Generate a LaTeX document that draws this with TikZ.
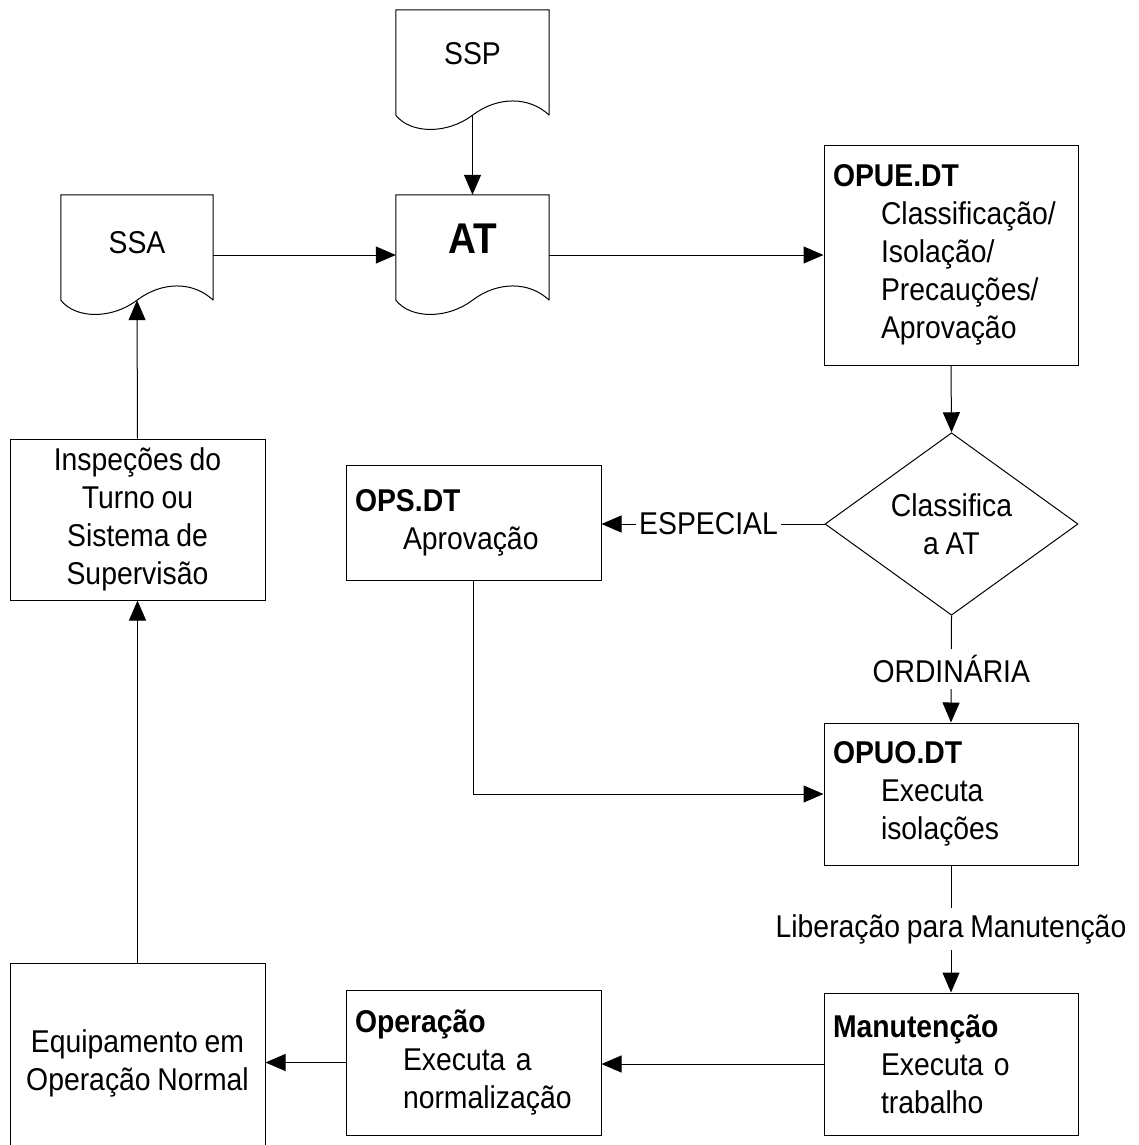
\documentclass[tikz,border=0pt]{standalone}
\usepackage{fontspec}
\setmainfont{Liberation Sans}[FakeStretch=0.9,WordSpace=0.85]
\usetikzlibrary{shapes.geometric,arrows.meta,calc}
\newcommand{\ind}{\hspace*{48pt}}
\newcommand{\mydocshape}[1]{%
  \draw[line width=1pt] (#1.south east) -- (#1.north east) -- (#1.north west) -- (#1.south west)
    .. controls ($(#1.south west)+(15,19)$) and ($(#1.south)+(-25,19)$) .. (#1.south)
    .. controls ($(#1.south)+(25,-19)$) and ($(#1.south east)+(-20,-19)$) .. (#1.south east);}
\begin{document}
\begin{tikzpicture}[x=1pt,y=-1pt,
  every node/.style={font=\fontsize{31.5}{38}\selectfont},
  line/.style={draw=black, line width=1pt},
  arr/.style={line, -{Triangle[length=20pt,width=17pt]}},
  box/.style={draw, line width=1pt, rectangle, inner xsep=9pt, inner ysep=0pt, align=left},
  cbox/.style={draw, line width=1pt, rectangle, inner sep=0pt, align=center},
  docnode/.style={rectangle, inner sep=0pt, minimum height=105pt},
  lbl/.style={fill=white, inner xsep=3.5pt, inner ysep=6pt},
]
\clip (0,0) rectangle (1139,1145);
\fill[white] (0,0) rectangle (1139,1145);

% document shapes
\node[docnode, minimum width=153pt] (ssp) at (472.5,62.5) {};
\mydocshape{ssp}
\node (ssptxt) at ([yshift=9pt]ssp.center) {SSP};

\node[docnode, minimum width=153pt] (at) at (472.5,247.5) {};
\mydocshape{at}
\node[font=\fontsize{43}{48}\selectfont\bfseries] (attxt) at ([yshift=9pt]at.center) {AT};

\node[docnode, minimum width=152pt] (ssa) at (137,247.5) {};
\mydocshape{ssa}
\node (ssatxt) at ([yshift=5pt]ssa.center) {SSA};

% process boxes
\node[box, minimum width=254pt, minimum height=220pt, text width=236pt] (opue) at (951,255)
  {\textbf{OPUE.DT}\\\ind Classificação/\\\ind Isolação/\\\ind Precauções/\\\ind Aprovação};
\node[diamond, draw, line width=1pt, minimum width=253pt, minimum height=170pt, inner sep=0pt, align=center]
  (dia) at (951.5,524) {Classifica\\a AT};
\node[box, minimum width=255pt, minimum height=115pt, text width=237pt] (ops) at (473.5,522.5)
  {\textbf{OPS.DT}\\\ind Aprovação};
\node[box, minimum width=254pt, minimum height=142pt, text width=236pt] (opuo) at (951,794)
  {\textbf{OPUO.DT}\\\ind Executa\\\ind isolações};
\node[box, minimum width=254pt, minimum height=142pt, text width=236pt] (man) at (951,1064)
  {\textbf{Manutenção}\\\ind Executa o\\\ind trabalho};
\node[box, minimum width=255pt, minimum height=145pt, text width=237pt] (oper) at (473.5,1062.5)
  {\textbf{Operação}\\\ind Executa a\\\ind normalização};
\node[cbox, minimum width=255pt, minimum height=200pt] (equip) at (137.5,1063)
  {Equipamento em\\Operação Normal};
\node[cbox, minimum width=255pt, minimum height=161pt] (insp) at (137.5,519.5)
  {Inspeções do\\Turno ou\\Sistema de\\Supervisão};

% connectors
\draw[arr] (ssp.south) -- (at.north);
\draw[arr] ([yshift=-7.5pt]ssa.east) -- ([yshift=-7.5pt]at.west);
\draw[arr] ([yshift=-7.5pt]at.east) -- (opue.west);
\draw[arr] (opue.south) -- (dia.north);
\draw[arr] (dia.west) -- node[lbl, pos=0.52] {ESPECIAL} (dia.west -| ops.east);
\draw[arr] (dia.south) -- node[lbl] {ORDINÁRIA} (opuo.north);
\draw[arr] (opuo.south) -- node[lbl] {Liberação para Manutenção} (man.north);
\draw[arr] (ops.south) |- (opuo.west);
\draw[arr] (man.west) -- (man.west -| oper.east);
\draw[arr] (oper.west) -- (oper.west -| equip.east);
\draw[arr] (equip.north) -- (insp.south);
\draw[arr] (insp.north) -- (ssa.south);
\end{tikzpicture}
\end{document}
